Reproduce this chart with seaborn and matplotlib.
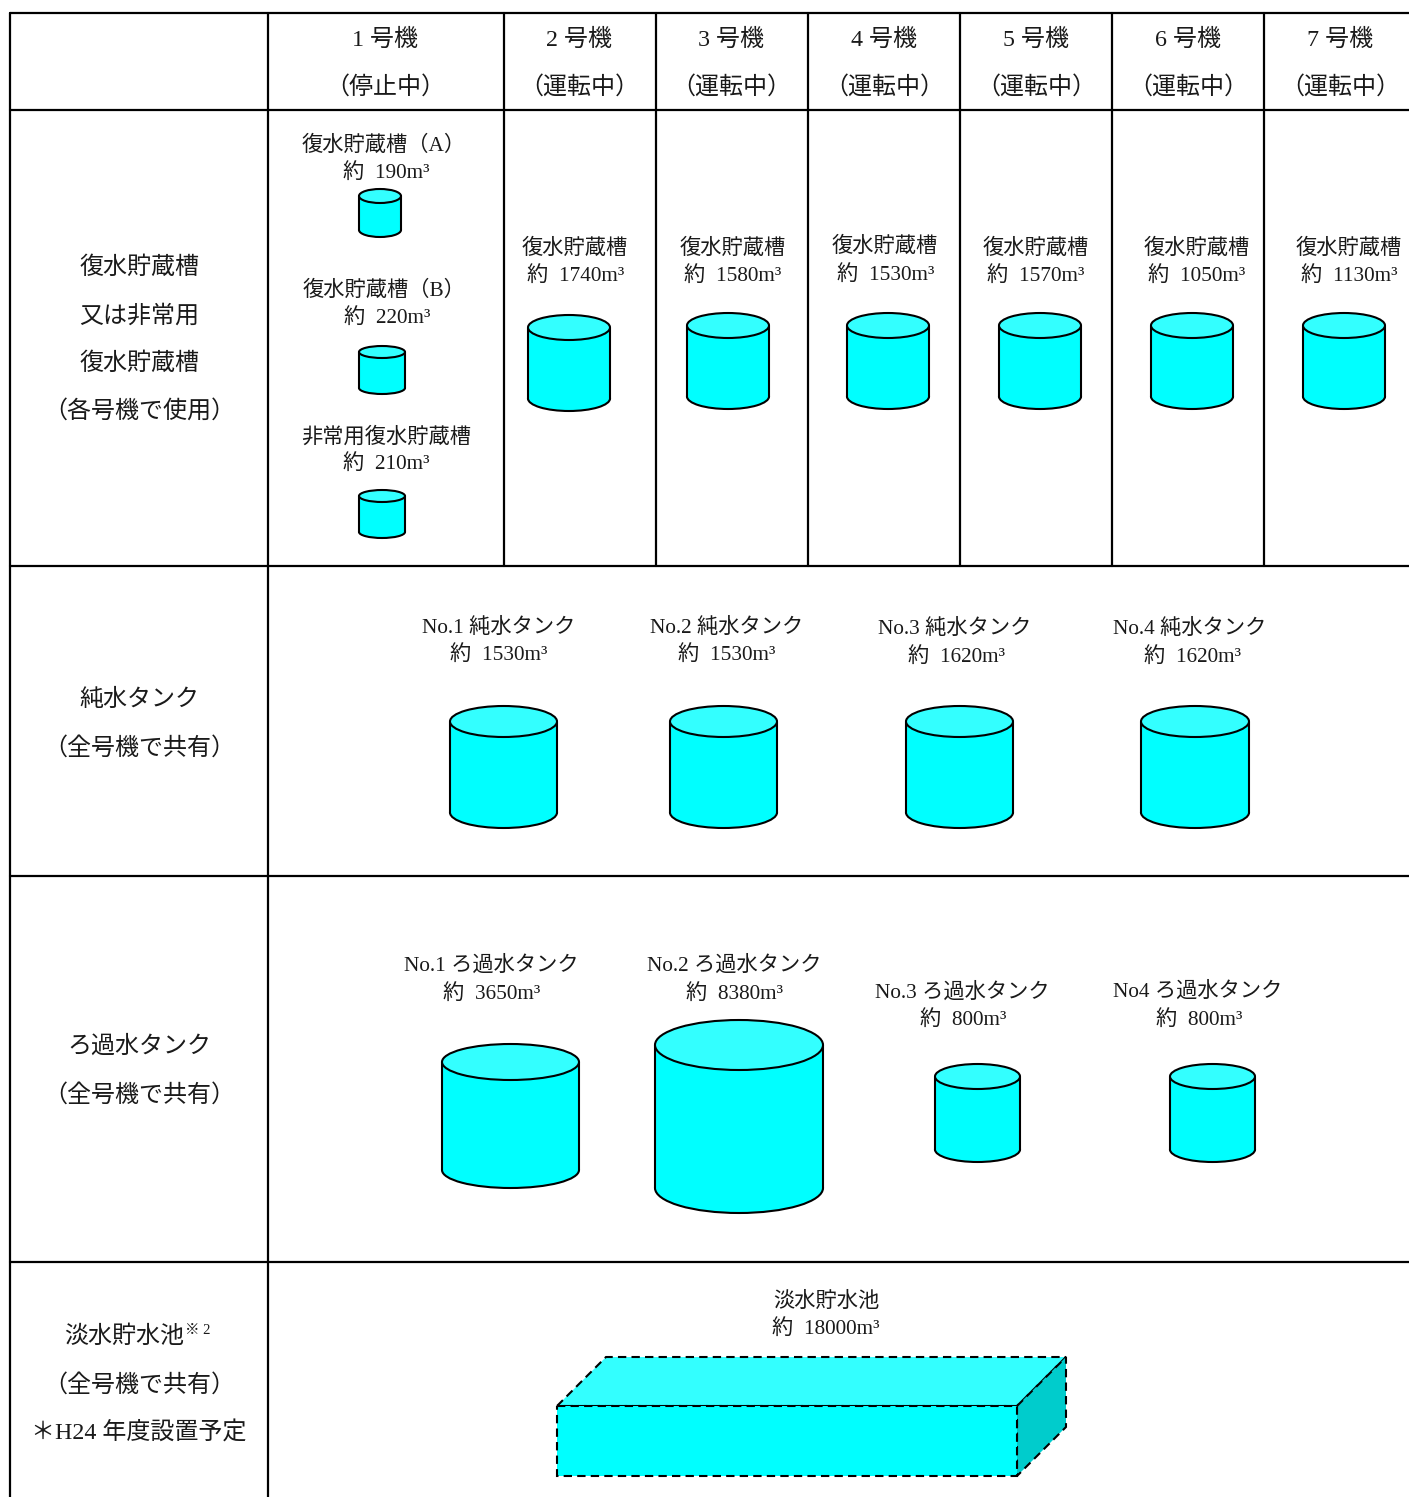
import pandas as pd
import matplotlib
matplotlib.use('Agg')
import matplotlib.pyplot as plt
import seaborn as sns
from matplotlib.patches import Ellipse, Rectangle, Polygon

sns.set_theme(style='white')
plt.rcParams['font.family'] = ['Liberation Serif', 'Noto Sans CJK JP']

INK = '#1a1a1a'
SIDE = '#00ffff'
TOP = '#33ffff'
SHADE = '#00cccc'
CELL_FS = 15.3
HEAD_FS = 17.3

# Header row
unit_names = ['1 号機', '2 号機', '3 号機', '4 号機', '5 号機', '6 号機', '7 号機']
unit_states = ['（停止中）', '（運転中）', '（運転中）', '（運転中）', '（運転中）', '（運転中）', '（運転中）']
unit_x = [385, 579, 731, 884, 1036, 1188, 1340]

# Row headings
row_labels = ['復水貯蔵槽', '又は非常用', '復水貯蔵槽', '（各号機で使用）',
              '純水タンク', '（全号機で共有）',
              'ろ過水タンク', '（全号機で共有）',
              '（全号機で共有）', '＊H24 年度設置予定']
row_label_y = [268, 316, 364, 411, 700, 748, 1047, 1095, 1385, 1433]

# Tanks: names and volumes in m3
tank_names = ['復水貯蔵槽（A）', '復水貯蔵槽（B）', '非常用復水貯蔵槽',
              '復水貯蔵槽', '復水貯蔵槽', '復水貯蔵槽', '復水貯蔵槽', '復水貯蔵槽', '復水貯蔵槽',
              'No.1 純水タンク', 'No.2 純水タンク', 'No.3 純水タンク', 'No.4 純水タンク',
              'No.1 ろ過水タンク', 'No.2 ろ過水タンク', 'No.3 ろ過水タンク', 'No4 ろ過水タンク']
tank_volumes = [190, 220, 210, 1740, 1580, 1530, 1570, 1050, 1130,
                1530, 1530, 1620, 1620, 3650, 8380, 800, 800]

# Label centres (name line, volume line follows)
name_x = [384, 384, 386, 575, 733, 885, 1036, 1197, 1349, 499, 727, 955, 1190, 491, 734, 962, 1198]
name_y = [146, 291, 437, 249, 249, 247, 249, 249, 249, 628, 628, 629, 629, 966, 966, 993, 992]
vol_x = [386, 387, 386, 576, 733, 886, 1036, 1197, 1349, 499, 727, 956, 1192, 492, 735, 963, 1199]
vol_y = [173, 318, 464, 276, 276, 275, 276, 276, 276, 655, 655, 657, 657, 994, 994, 1020, 1020]

# Tank outlines in picture pixels
tank_left = [359, 359, 359, 528, 687, 847, 999, 1151, 1303, 450, 670, 906, 1141, 442, 655, 935, 1170]
tank_right = [401, 405, 405, 610, 769, 929, 1081, 1233, 1385, 557, 777, 1013, 1249, 579, 823, 1020, 1255]
tank_top = [189, 346, 490, 315, 313, 313, 313, 313, 313, 706, 706, 706, 706, 1044, 1020, 1064, 1064]
tank_bottom = [237, 394, 538, 411, 409, 409, 409, 409, 409, 828, 828, 828, 828, 1188, 1213, 1162, 1162]
tank_cap = [14, 12, 12, 25, 25, 25, 25, 25, 25, 31, 31, 31, 31, 36, 50, 25, 25]

# Table rules: x0, x1, y0, y1
rule_x0 = [10, 10, 10, 10, 10, 10, 268, 504, 656, 808, 960, 1112, 1264]
rule_x1 = [1409, 1409, 1409, 1409, 1409, 10, 268, 504, 656, 808, 960, 1112, 1264]
rule_y0 = [13, 110, 566, 876, 1262, 13, 13, 13, 13, 13, 13, 13, 13]
rule_y1 = [13, 110, 566, 876, 1262, 1497, 1497, 566, 566, 566, 566, 566, 566]

# Pond
pond_front_x = [557, 1017]
pond_front_y = [1406, 1476]
pond_shift = [49, -49]

fig, ax = plt.subplots(figsize=(14.09, 14.97), dpi=100)
ax.set_position([0, 0, 1, 1])
fig.patch.set_facecolor('white')

rules = pd.DataFrame({
    'x': rule_x0 + rule_x1,
    'y': rule_y0 + rule_y1,
    'rule': list(range(len(rule_x0))) * 2,
})
sns.lineplot(data=rules, x='x', y='y', units='rule', estimator=None, sort=False,
             color='black', lw=1.6, legend=False, ax=ax)

for i in range(len(tank_volumes)):
    l, r, t, b, c = tank_left[i], tank_right[i], tank_top[i], tank_bottom[i], tank_cap[i]
    mid = (l + r) / 2
    w = r - l
    ax.add_patch(Ellipse((mid, b - c / 2), w, c, fc=SIDE, ec='black', lw=1.5, zorder=3))
    ax.add_patch(Rectangle((l, t + c / 2), w, b - t - c, fc=SIDE, ec='none', zorder=3))
    ax.plot([l, l], [t + c / 2, b - c / 2], color='black', lw=1.5, zorder=4)
    ax.plot([r, r], [t + c / 2, b - c / 2], color='black', lw=1.5, zorder=4)
    ax.add_patch(Ellipse((mid, t + c / 2), w, c, fc=TOP, ec='black', lw=1.5, zorder=5))
    ax.text(name_x[i], name_y[i], tank_names[i], ha='center', va='center', fontsize=CELL_FS, color=INK)
    ax.text(vol_x[i], vol_y[i], f'約  {tank_volumes[i]}m³', ha='center', va='center', fontsize=CELL_FS, color=INK)

# Reservoir drawn as a dashed box
x0, x1 = pond_front_x
y0, y1 = pond_front_y
dx, dy = pond_shift
dash = dict(ec='black', lw=1.5, ls=(0, (4, 2.5)), joinstyle='miter')
ax.add_patch(Polygon([(x0, y0), (x0 + dx, y0 + dy), (x1 + dx, y0 + dy), (x1, y0)], fc=TOP, **dash))
ax.add_patch(Polygon([(x1, y0), (x1 + dx, y0 + dy), (x1 + dx, y1 + dy), (x1, y1)], fc=SHADE, **dash))
ax.add_patch(Rectangle((x0, y0), x1 - x0, y1 - y0, fc=SIDE, **dash))
ax.text(826, 1302, '淡水貯水池', ha='center', va='center', fontsize=CELL_FS, color=INK)
ax.text(826, 1329, '約  18000m³', ha='center', va='center', fontsize=CELL_FS, color=INK)

for name, state, x in zip(unit_names, unit_states, unit_x):
    ax.text(x, 40, name, ha='center', va='center', fontsize=HEAD_FS, color=INK)
    ax.text(x, 87, state, ha='center', va='center', fontsize=HEAD_FS, color=INK)

for label, y in zip(row_labels, row_label_y):
    ax.text(139, y, label, ha='center', va='center', fontsize=HEAD_FS, color=INK)
ax.text(124, 1337, '淡水貯水池', ha='center', va='center', fontsize=HEAD_FS, color=INK)
ax.text(198, 1330, '※ 2', ha='center', va='center', fontsize=10.5, color=INK)

ax.set_xlim(0, 1409)
ax.set_ylim(1497, 0)
ax.set_xlabel('')
ax.set_ylabel('')
ax.set_xticks([])
ax.set_yticks([])
sns.despine(ax=ax, left=True, bottom=True)

fig.savefig('out.png', dpi=100, facecolor='white')
